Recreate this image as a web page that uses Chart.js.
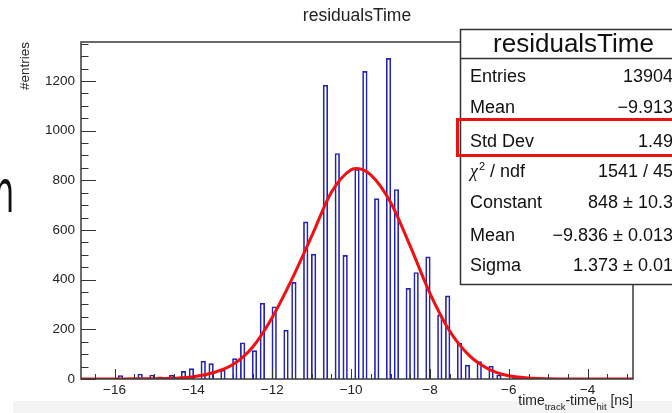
<!DOCTYPE html>
<html>
<head>
<meta charset="utf-8">
<title>residualsTime</title>
<script src="https://cdn.jsdelivr.net/npm/chart.js@4.4.1/dist/chart.umd.min.js"></script>
<style>
  html, body { margin: 0; padding: 0; background: #fff; }
  #wrap { width: 672px; height: 413px; position: relative; overflow: hidden; }
</style>
</head>
<body>
<div id="wrap"><canvas id="residualsChart" width="672" height="413"></canvas></div>
<script>
// histogram bins (centre of 0.1 ns bins) and their entries
var binCenters = [-15.85, -15.35, -15.05, -14.85, -14.55, -14.25, -14.05, -13.75, -13.55, -13.25,
    -12.95, -12.75, -12.45, -12.25, -11.95, -11.65, -11.45, -11.15, -10.95, -10.65,
    -10.35, -10.15, -9.85, -9.65, -9.35, -9.05, -8.85, -8.55, -8.35, -8.05,
    -7.75, -7.55, -7.25, -7.05, -6.75, -6.45, -6.25, -5.85];
var binCounts = [14, 20, 16, 9, 15, 31, 42, 72, 62, 36,
    82, 146, 114, 305, 291, 197, 389, 633, 503, 1183,
    908, 498, 844, 1239, 726, 1291, 763, 365, 429, 492,
    258, 335, 144, 56, 70, 52, 16, 8];

// gaussian fit curve
var fitX = [-16.85, -16, -15.5, -15, -14.5, -14, -13.5, -13, -12.5, -12, -11.5, -11, -10.5, -10,
    -9.85, -9.5, -9, -8.5, -8, -7.5, -7, -6.5, -6, -5.5, -5, -4.5, -4, -2.85];
var fitY = [0, 0, 1, 1, 3, 9, 25, 58, 128, 248, 402, 575, 752, 843,
    848, 822, 712, 535, 345, 193, 94, 39, 13, 4, 1, 0, 0, 0];

var xTicks = [-16, -14, -12, -10, -8, -6, -4];
var yTicks = [0, 200, 400, 600, 800, 1000, 1200];

var statLabels = ["Entries", "Mean", "Std Dev", "chi2", "Constant", "Mean", "Sigma"];
var statValues = ["13904", "\u22129.913", "1.49", "1541 / 45", "848 \u00b1 10.3", "\u22129.836 \u00b1 0.013", "1.373 \u00b1 0.01"];

var FONT = '"Liberation Sans", Arial, Helvetica, sans-serif';

function minus(v) {
    return String(v).replace("-", "\u2212");
}

var rootDecor = {
    id: "rootDecor",
    beforeDraw: function (chart) {
        var c = chart.ctx;
        c.save();
        c.fillStyle = "#ffffff";
        c.fillRect(0, 0, chart.width, chart.height);
        c.fillStyle = "#f4f4f4";
        c.fillRect(13, 401, chart.width - 13, 12);
        c.restore();
    },
    afterDatasetsDraw: function (chart) {
        var c = chart.ctx, a = chart.chartArea;
        var xs = chart.scales.x, ys = chart.scales.y;
        c.save();
        c.strokeStyle = "#333";
        c.lineWidth = 1;
        c.beginPath();
        for (var v = 0; v <= ys.max; v += 50) {
            var py = Math.round(ys.getPixelForValue(v)) + 0.5;
            var len = v % 200 === 0 ? 15 : 7.5;
            c.moveTo(a.left, py);
            c.lineTo(a.left + len, py);
        }
        for (var t = -16.5; t <= xs.max; t += 0.5) {
            var px = Math.round(xs.getPixelForValue(t)) + 0.5;
            var tl = t % 2 === 0 ? 10 : 5;
            c.moveTo(px, a.bottom);
            c.lineTo(px, a.bottom - tl);
        }
        c.stroke();
        c.lineWidth = 1.5;
        c.strokeStyle = "#3a3a3a";
        c.strokeRect(a.left, a.top, a.right - a.left, a.bottom - a.top);
        c.restore();
    },
    afterDraw: function (chart) {
        var c = chart.ctx, a = chart.chartArea;
        c.save();
        c.fillStyle = "#222";

        // title
        c.font = "17.5px " + FONT;
        c.textAlign = "center";
        c.textBaseline = "alphabetic";
        c.fillText("residualsTime", 357, 21);

        // y title
        c.save();
        c.translate(25, a.top);
        c.rotate(-Math.PI / 2);
        c.font = "13.5px " + FONT;
        c.textAlign = "right";
        c.textBaseline = "middle";
        c.fillText("#entries", 0, 0);
        c.restore();

        // x title with subscripts, right aligned to the frame
        var parts = [["time", 14, 0], ["track", 9.5, 5], ["-time", 14, 0], ["hit", 9.5, 5], [" [ns]", 14, 0]];
        var total = 0;
        parts.forEach(function (p) {
            c.font = p[1] + "px " + FONT;
            total += c.measureText(p[0]).width;
        });
        var x0 = a.right - total;
        c.textAlign = "left";
        parts.forEach(function (p) {
            c.font = p[1] + "px " + FONT;
            c.fillText(p[0], x0, 405 + p[2]);
            x0 += c.measureText(p[0]).width;
        });

        // slide text cut at left edge
        c.save();
        c.translate(-6, 212);
        c.scale(0.55, 1);
        c.font = '58px "DejaVu Sans", sans-serif';
        c.fillStyle = "#111";
        c.fillText("n", 0, 0);
        c.restore();

        // stats box
        c.fillStyle = "#ffffff";
        c.fillRect(460, 29, 230, 255);
        c.strokeStyle = "#333";
        c.lineWidth = 1.5;
        c.strokeRect(460.5, 29.5, 240, 255);
        c.beginPath();
        c.moveTo(460, 58.5);
        c.lineTo(chart.width, 58.5);
        c.stroke();

        c.fillStyle = "#111";
        c.font = "26px " + FONT;
        c.textAlign = "center";
        c.fillText("residualsTime", 573.5, 52);

        var baselines = [81.7, 113, 146.7, 176.7, 208, 240.7, 270.7];
        c.font = "18px " + FONT;
        for (var i = 0; i < statLabels.length; i++) {
            c.textAlign = "left";
            if (statLabels[i] === "chi2") {
                c.font = "italic 18px \"Liberation Serif\", serif";
                c.fillText("\u03c7", 470, baselines[i]);
                var w = c.measureText("\u03c7").width;
                c.font = "11px " + FONT;
                c.fillText("2", 470 + w + 1, baselines[i] - 7);
                var w2 = c.measureText("2").width;
                c.font = "18px " + FONT;
                c.fillText(" / ndf", 470 + w + w2 + 1, baselines[i]);
            } else {
                c.fillText(statLabels[i], 470, baselines[i]);
            }
            c.textAlign = "right";
            c.fillText(statValues[i], 673, baselines[i]);
        }

        // red highlight around Std Dev
        c.strokeStyle = "#ec1212";
        c.lineWidth = 3;
        c.strokeRect(457.5, 119.5, 240, 36);
        c.restore();
    }
};

var ctx = document.getElementById("residualsChart");
new Chart(ctx, {
    type: "bar",
    data: {
        datasets: [{
                type: "line",
                label: "gaus",
                data: fitX.map(function (x, i) { return { x: x, y: fitY[i] }; }),
                borderColor: "#f01010",
                borderWidth: 3,
                pointRadius: 0,
                cubicInterpolationMode: "monotone",
                fill: false,
                order: 0
            }, {
                label: "residualsTime",
                data: binCenters.map(function (x, i) { return { x: x, y: binCounts[i] }; }),
                backgroundColor: "rgba(255,255,255,0)",
                borderColor: "#2323b4",
                borderWidth: 1,
                barThickness: 4.6,
                order: 1
            }]
    },
    options: {
        responsive: false,
        animation: false,
        devicePixelRatio: 1,
        layout: { padding: { top: 42, right: 39, left: 0, bottom: 0 } },
        scales: {
            x: {
                type: "linear",
                min: -16.85,
                max: -2.85,
                offset: false,
                grid: { display: false, drawTicks: false },
                border: { display: false },
                afterBuildTicks: function (s) {
                    s.ticks = xTicks.map(function (v) { return { value: v }; });
                },
                afterFit: function (s) { s.height = 34; },
                ticks: {
                    color: "#222",
                    padding: 3,
                    maxRotation: 0,
                    autoSkip: false,
                    font: { size: 13.5, family: FONT },
                    callback: function (v) { return minus(v); }
                }
            },
            y: {
                min: 0,
                max: 1357,
                grid: { display: false, drawTicks: false },
                border: { display: false },
                afterBuildTicks: function (s) {
                    s.ticks = yTicks.map(function (v) { return { value: v }; });
                },
                afterFit: function (s) { s.width = 81; },
                ticks: {
                    color: "#222",
                    padding: 6,
                    font: { size: 13.5, family: FONT },
                    callback: function (v) { return String(v); }
                }
            }
        },
        plugins: {
            legend: { display: false },
            tooltip: { enabled: false },
            title: { display: false }
        }
    },
    plugins: [rootDecor]
});
</script>
</body>
</html>
